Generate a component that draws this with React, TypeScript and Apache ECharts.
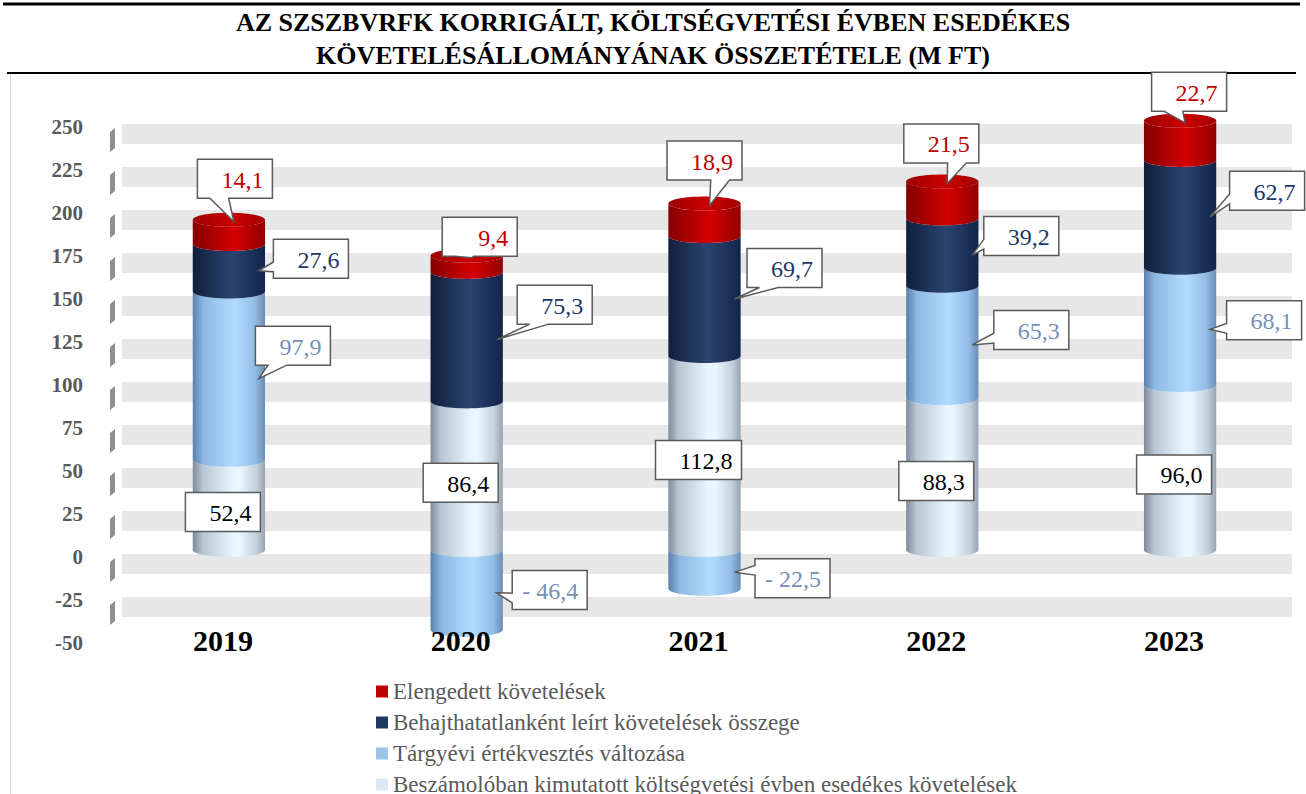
import React, { useEffect, useRef } from 'react';
import * as echarts from 'echarts';

// ---- data ----
const YEARS = ['2019', '2020', '2021', '2022', '2023'];
const BESZAMOLO = [52.4, 86.4, 112.8, 88.3, 96.0];
const TARGYEVI = [97.9, -46.4, -22.5, 65.3, 68.1];
const BEHAJTHATATLAN = [27.6, 75.3, 69.7, 39.2, 62.7];
const ELENGEDETT = [14.1, 9.4, 18.9, 21.5, 22.7];
const BAND_TICKS = [250, 225, 200, 175, 150, 125, 100, 75, 50, 25, 0, -25];

const NAMES = [
  'Beszámolóban kimutatott költségvetési évben esedékes követelések',
  'Tárgyévi értékvesztés változása',
  'Behajthatatlanként leírt követelések összege',
  'Elengedett követelések',
];
const TITLE = 'AZ SZSZBVRFK KORRIGÁLT, KÖLTSÉGVETÉSI ÉVBEN ESEDÉKES\nKÖVETELÉSÁLLOMÁNYÁNAK ÖSSZETÉTELE (M FT)';

// ---- layout (pixel offsets of callout boxes relative to their pointer tip) ----
const OFF_TARGY = [[34, -33], [53, -3], [58, 6], [59, -15], [54, -9]];
const OFF_BEHAJ = [[52, -12], [58, -35], [50, -31], [49, -19], [57, -26]];
const OFF_ELENG = [[1, -43], [8, -21], [-5, -45], [-6, -40], [4, -31]];
const DEPTH_SHIFT = -7; // 3D perspective: columns sit slightly above the axis labels

const SERIF = '"Liberation Serif", "Times New Roman", serif';
const LEGEND_COLORS = ['#dae8f5', '#9dc3e6', '#203864', '#c00000'];
const TEXT_COLORS = ['#000000', '#7590b8', '#203864', '#c00000'];

const BODY_STOPS = [
  [[0, '#7e8c9a'], [0.14, '#b8c6d3'], [0.55, '#e8f5fe'], [0.65, '#ebf7ff'], [0.88, '#c3d1dd'], [1, '#97a4b0']],
  [[0, '#5a80aa'], [0.15, '#8cb8e3'], [0.58, '#b2dcff'], [0.86, '#92bde7'], [1, '#6a8eb6']],
  [[0, '#111f3a'], [0.55, '#2a4471'], [1, '#13244a']],
  [[0, '#850000'], [0.58, '#d40000'], [1, '#920000']],
];
const CAP_STOPS = [[0, '#9c0000'], [0.55, '#cc0000'], [1, '#a20000']];

function grad(stops: any[]) {
  return new echarts.graphic.LinearGradient(0, 0, 1, 0, stops.map((s) => ({ offset: s[0], color: s[1] })));
}

function fmt(v: number) {
  const s = Math.abs(v).toFixed(1).replace('.', ',');
  return v < 0 ? '- ' + s : s;
}

function calloutPoints(l: number, t: number, w: number, h: number, tip: number[] | null) {
  const r = l + w, b = t + h;
  if (!tip) return [[l, t], [r, t], [r, b], [l, b]];
  const [tx, ty] = tip;
  const hc = l + w / 2, vc = t + h / 2;
  const dx = tx - hc, dy = ty - vc;
  const dq = (dx * h) / w;
  if (Math.abs(dy) > Math.abs(dq)) {
    const x1 = l + (w * (dx > 0 ? 7 : 2)) / 12;
    const x2 = l + (w * (dx > 0 ? 10 : 5)) / 12;
    if (dy < 0) return [[l, t], [x1, t], [tx, ty], [x2, t], [r, t], [r, b], [l, b]];
    return [[l, t], [r, t], [r, b], [x2, b], [tx, ty], [x1, b], [l, b]];
  }
  const y1 = t + (h * (dy > 0 ? 7 : 2)) / 12;
  const y2 = t + (h * (dy > 0 ? 10 : 5)) / 12;
  if (dx < 0) return [[l, t], [r, t], [r, b], [l, b], [l, y2], [tx, ty], [l, y1]];
  return [[l, t], [r, t], [r, y1], [tx, ty], [r, y2], [r, b], [l, b]];
}

export default function App() {
  const ref = useRef<HTMLDivElement>(null);

  useEffect(() => {
    const chart = echarts.init(ref.current!, null, { renderer: 'svg' });

    const layers = [BESZAMOLO, TARGYEVI, BEHAJTHATATLAN, ELENGEDETT];
    const pos = YEARS.map(() => 0);
    const neg = YEARS.map(() => 0);
    const topLayer = YEARS.map((_, i) => {
      let t = 0;
      layers.forEach((arr, l) => { if (arr[i] > 0) t = l; });
      return t;
    });
    const segData: number[][][] = layers.map(() => []);
    const labelData: number[][] = [];
    layers.forEach((arr, l) => {
      arr.forEach((v, i) => {
        let from: number, to: number;
        if (v >= 0) { from = pos[i]; to = from + v; pos[i] = to; }
        else { from = neg[i]; to = from + v; neg[i] = to; }
        segData[l].push([i, from, to, v > 0 && topLayer[i] === l ? 1 : 0]);
        const anchor = l === 3 ? to : (from + to) / 2;
        labelData.push([i, anchor, l, v]);
      });
    });

    const RY = 7;
    const makeBody = (l: number) => (params: any, api: any) => {
      const ci = api.value(0);
      const a = api.value(1), b = api.value(2), isTop = api.value(3);
      const pTop = api.coord([ci, Math.max(a, b)]);
      const pBot = api.coord([ci, Math.min(a, b)]);
      const yT = pTop[1] + DEPTH_SHIFT, yB = pBot[1] + DEPTH_SHIFT;
      const hw = api.size([1, 0])[0] * 0.152;
      const cx = pTop[0];
      const pts: number[][] = [];
      const N = 24;
      for (let k = 0; k <= N; k++) {
        const th = (Math.PI * k) / N;
        pts.push([cx - hw * Math.cos(th), yT + RY * Math.sin(th)]);
      }
      for (let k = N; k >= 0; k--) {
        const th = (Math.PI * k) / N;
        pts.push([cx - hw * Math.cos(th), yB + RY * Math.sin(th)]);
      }
      const children: any[] = [
        { type: 'polygon', shape: { points: pts }, style: { fill: grad(BODY_STOPS[l]) } },
      ];
      if (isTop) {
        children.push({
          type: 'ellipse',
          shape: { cx, cy: yT, rx: hw, ry: RY },
          style: { fill: grad(CAP_STOPS) },
        });
      }
      return { type: 'group', children };
    };

    const bodySeries = layers.map((_, l) => ({
      type: 'custom',
      name: NAMES[l],
      z: 3,
      itemStyle: { color: LEGEND_COLORS[l] },
      encode: { x: 0, y: [1, 2] },
      data: segData[l],
      renderItem: makeBody(l),
      silent: true,
    }));

    const bandSeries = {
      type: 'custom',
      name: 'bands',
      z: 1,
      silent: true,
      encode: { x: 0, y: 1 },
      data: BAND_TICKS.map((v) => [0, v]),
      renderItem: (params: any, api: any) => {
        const y = api.coord([0, api.value(1)])[1];
        const cs = params.coordSys;
        return {
          type: 'group',
          children: [
            { type: 'rect', shape: { x: cs.x + 12, y: y - 3, width: cs.width - 19, height: 20 }, style: { fill: '#e7e7e7' } },
            {
              type: 'polygon',
              shape: { points: [[cs.x, y + 5], [cs.x + 5, y + 1], [cs.x + 5, y + 21], [cs.x, y + 25]] },
              style: { fill: '#8f8f8f' },
            },
          ],
        };
      },
    };

    const labelSeries = {
      type: 'custom',
      name: 'labels',
      z: 10,
      silent: true,
      encode: { x: 0, y: 1 },
      data: labelData,
      renderItem: (params: any, api: any) => {
        const ci = api.value(0), l = api.value(2), v = api.value(3);
        const p = api.coord([ci, api.value(1)]);
        const cx = p[0], y = p[1];
        let tip: number[] | null = null;
        let bc: number[];
        if (l === 0) {
          bc = [cx - 6, y];
        } else if (l === 3) {
          tip = [cx + 5, y - 5];
          bc = [tip[0] + OFF_ELENG[ci][0], tip[1] + OFF_ELENG[ci][1]];
        } else {
          tip = [cx + 30, y - 4];
          const off = l === 1 ? OFF_TARGY[ci] : OFF_BEHAJ[ci];
          bc = [tip[0] + off[0], tip[1] + off[1]];
        }
        const text = fmt(v);
        const digits = text.replace(/[^0-9]/g, '').length;
        const w = 75 + (digits > 3 ? 11 : 0);
        const h = 39;
        const left = bc[0] - w / 2, top = bc[1] - h / 2;
        return {
          type: 'group',
          children: [
            {
              type: 'polygon',
              shape: { points: calloutPoints(left, top, w, h, tip) },
              style: { fill: '#ffffff', stroke: '#5a5a5a', lineWidth: 1.5 },
            },
            {
              type: 'text',
              style: {
                x: left + w - 9,
                y: bc[1] + 1,
                text,
                align: 'right',
                verticalAlign: 'middle',
                fill: TEXT_COLORS[l],
                fontSize: 24,
                fontFamily: SERIF,
              },
            },
          ],
        };
      },
    };

    chart.setOption({
      animation: false,
      backgroundColor: '#ffffff',
      title: {
        text: TITLE,
        left: 'center',
        top: 6,
        padding: 0,
        textStyle: { fontFamily: SERIF, fontWeight: 'bold', fontSize: 26, lineHeight: 33, color: '#000' },
      },
      graphic: [
        { type: 'line', shape: { x1: 3, y1: 4, x2: 1300, y2: 4 }, style: { stroke: '#000', lineWidth: 3 } },
        { type: 'line', shape: { x1: 7, y1: 73, x2: 1296, y2: 73 }, style: { stroke: '#000', lineWidth: 2 } },
        { type: 'line', shape: { x1: 10.5, y1: 74, x2: 10.5, y2: 794 }, style: { stroke: '#d9d9d9', lineWidth: 1 } },
      ],
      legend: {
        orient: 'vertical',
        left: 371,
        top: 675,
        height: 300,
        icon: 'rect',
        itemWidth: 12,
        itemHeight: 12,
        itemGap: 8,
        textStyle: { fontFamily: SERIF, fontSize: 23, color: '#595959', lineHeight: 23 },
        data: [NAMES[3], NAMES[2], NAMES[1], NAMES[0]],
        selectedMode: false,
      },
      grid: { left: 110, right: 7, top: 127, bottom: 151, containLabel: false },
      xAxis: {
        type: 'category',
        data: YEARS,
        z: 20,
        axisLine: { show: false },
        axisTick: { show: false },
        axisLabel: {
          fontFamily: SERIF,
          fontWeight: 'bold',
          fontSize: 30,
          color: '#000',
          margin: -3,
          verticalAlign: 'middle',
          padding: [0, 12, 0, 0],
        },
      },
      yAxis: {
        type: 'value',
        min: -50,
        max: 250,
        interval: 25,
        axisLine: { show: false },
        axisTick: { show: false },
        splitLine: { show: false },
        axisLabel: { fontFamily: SERIF, fontWeight: 'bold', fontSize: 21, color: '#595959', margin: 27 },
      },
      series: [bandSeries, ...bodySeries, labelSeries],
    });

    return () => chart.dispose();
  }, []);

  return (
    <div
      ref={ref}
      style={{ position: 'fixed', left: 0, top: 0, width: 1306, height: 794, background: '#fff' }}
    />
  );
}
